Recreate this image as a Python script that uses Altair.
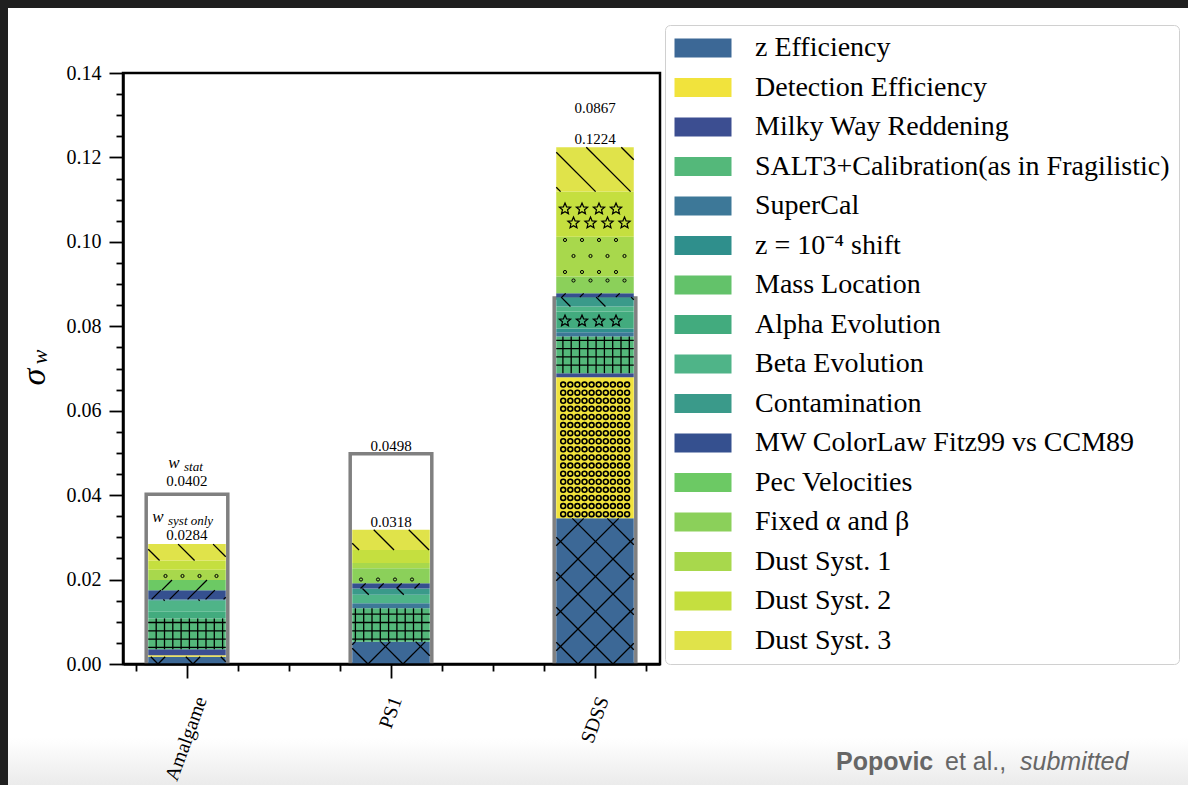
import altair as alt
import pandas as pd
import numpy as np

# ---------------- data ----------------
surveys = ["Amalgame", "PS1", "SDSS"]
survey_pos = [0, 1, 2]
systematics = [
    "z Efficiency", "Detection Efficiency", "Milky Way Reddening",
    "SALT3+Calibration(as in Fragilistic)", "SuperCal", "z = 10⁻⁴ shift",
    "Mass Location", "Alpha Evolution", "Beta Evolution", "Contamination",
    "MW ColorLaw Fitz99 vs CCM89", "Pec Velocities", "Fixed α and β",
    "Dust Syst. 1", "Dust Syst. 2", "Dust Syst. 3",
]
sys_colors = [
    "#3c6896", "#f1e33c", "#3c4e91", "#54b87a", "#3d7898", "#2f8f8c",
    "#63c26a", "#42ab7e", "#4fb488", "#3a9a8a", "#35508f", "#6cc964",
    "#8bd05a", "#a8d84c", "#c5df3f", "#e0e34a",
]
amalgame_vals = [0.0017, 0.0004, 0.0014, 0.0073, 0.0, 0.0, 0.0, 0.0016,
                 0.0026, 0.0003, 0.0022, 0.0024, 0.0, 0.0024, 0.0022, 0.0039]
ps1_vals = [0.0053, 0.0, 0.0, 0.0079, 0.0012, 0.0, 0.0, 0.0,
            0.0020, 0.0015, 0.0012, 0.0, 0.0036, 0.0012, 0.0031, 0.0048]
sdss_vals = [0.0345, 0.0334, 0.0010, 0.0087, 0.0010, 0.0009, 0.0, 0.0040,
             0.0012, 0.0022, 0.0009, 0.0, 0.0040, 0.0094, 0.0107, 0.0105]
syst_only_totals = [0.0284, 0.0318, 0.1224]
stat_totals = [0.0402, 0.0498, 0.0867]

# ---------------- geometry / style ----------------
W, H = 537, 591
XD = (-0.3137, 2.3186)
YMAX = 0.14
KX = W / (XD[1] - XD[0])
KY = H / YMAX
BAR_HW = 0.19
BOX_HW = 0.20
SERIF = "Liberation Serif"

rows = []
for name, pos, vals in zip(surveys, survey_pos, [amalgame_vals, ps1_vals, sdss_vals]):
    base = 0.0
    for k, (sysname, v) in enumerate(zip(systematics, vals)):
        if v > 0:
            rows.append(dict(survey=name, pos=pos, system=sysname, k=k,
                             y0=base, y1=base + v, xa=pos - BAR_HW, xb=pos + BAR_HW))
        base += v
seg = pd.DataFrame(rows)

box = pd.DataFrame({"survey": surveys, "pos": survey_pos, "stat": stat_totals})
box["xa"] = box["pos"] - BOX_HW
box["xb"] = box["pos"] + BOX_HW
box["zero"] = 0.0


def star_path(n=5, r_in=0.45):
    pts = []
    for i in range(2 * n):
        a = np.deg2rad(-90 + 180 / n * i)
        r = 1.0 if i % 2 == 0 else r_in
        pts.append(f"{r*np.cos(a):.3f},{r*np.sin(a):.3f}")
    return "M" + "L".join(pts) + "Z"


STAR = star_path()
HATCH = {
    0: [("up", 35), ("down", 35)],
    1: [("pts", "circle", 7.1, 8.1, 24, 1.6, False)],
    2: [("pts", "circle", 14, 14, 110, 1.3, False)],
    3: [("hv", 8.3)],
    5: [("pts", "circle", 17, 12, 20, 1.2, True)],
    6: [("pts", "circle", 17, 12, 20, 1.2, True)],
    7: [("pts", STAR, 17, 14, 140, 1.2, True)],
    9: [("down", 35)],
    10: [("up", 18)],
    11: [("up", 35)],
    12: [("pts", "circle", 17, 13, 10, 1.0, True)],
    13: [("pts", "circle", 17, 16, 10, 1.0, True)],
    14: [("pts", STAR, 17, 14, 140, 1.2, True)],
    15: [("down", 35)],
}

lines, pts = [], []
for r in seg.itertuples():
    X0, X1 = (r.xa - XD[0]) * KX, (r.xb - XD[0]) * KX
    Y0, Y1 = r.y0 * KY, r.y1 * KY
    for h in HATCH.get(r.k, []):
        kind = h[0]
        if kind == "up":
            p = h[1]
            for j in range(int(np.floor((Y0 - X1) / p)), int(np.ceil((Y1 - X0) / p)) + 1):
                c = j * p
                xs, xe = max(X0, Y0 - c), min(X1, Y1 - c)
                if xe - xs > 0.5:
                    lines.append((xs, xs + c, xe, xe + c))
        elif kind == "down":
            p = h[1]
            for j in range(int(np.floor((X0 + Y0) / p)), int(np.ceil((X1 + Y1) / p)) + 1):
                c = j * p
                xs, xe = max(X0, c - Y1), min(X1, c - Y0)
                if xe - xs > 0.5:
                    lines.append((xs, c - xs, xe, c - xe))
        elif kind == "hv":
            p = h[1]
            for j in range(int(np.ceil(X0 / p)), int(np.floor(X1 / p)) + 1):
                X = j * p
                if X0 < X < X1:
                    lines.append((X, Y0, X, Y1))
            for j in range(int(np.ceil(Y0 / p)), int(np.floor(Y1 / p)) + 1):
                Y = j * p
                if Y0 < Y < Y1:
                    lines.append((X0, Y, X1, Y))
        elif kind == "pts":
            _, shape, pxp, pyp, size, sw, stagger = h
            rad = np.sqrt(size / np.pi) if shape == "circle" else np.sqrt(size) / 2
            for j in range(int(np.floor(Y0 / pyp)) - 1, int(np.ceil(Y1 / pyp)) + 1):
                Y = (j + 0.5) * pyp
                if not (Y0 + rad * 0.7 <= Y <= Y1 - rad * 0.7):
                    continue
                off = pxp / 2 if (stagger and j % 2) else 0.0
                for i in range(int(np.floor((X0 - off) / pxp)) - 1, int(np.ceil((X1 - off) / pxp)) + 1):
                    X = i * pxp + off
                    if X0 + rad * 0.8 <= X <= X1 - rad * 0.8:
                        pts.append((X, Y, shape, size, sw))

hl = pd.DataFrame(lines, columns=["X1", "Y1", "X2", "Y2"])
hl["x"] = hl["X1"] / KX + XD[0]
hl["x2"] = hl["X2"] / KX + XD[0]
hl["y"] = hl["Y1"] / KY
hl["y2"] = hl["Y2"] / KY
hp = pd.DataFrame(pts, columns=["X", "Y", "shape", "size", "sw"])
hp["x"] = hp["X"] / KX + XD[0]
hp["y"] = hp["Y"] / KY

lab = pd.DataFrame({"survey": surveys, "pos": survey_pos,
                    "syst": syst_only_totals, "stat": stat_totals})
lab["syst_txt"] = lab["syst"].map(lambda v: f"{v:.4f}")
lab["stat_txt"] = lab["stat"].map(lambda v: f"{v:.4f}")

# ---------------- scales / axes ----------------
XS = alt.Scale(domain=list(XD), nice=False, zero=False)
YS = alt.Scale(domain=[0, YMAX], nice=False, zero=False)

x_ticks = [round(-0.25 + 0.25 * i, 2) for i in range(11)]
y_ticks = [round(0.005 * i, 3) for i in range(29)]

x_lab_expr = " : ".join(
    [f"abs(datum.value - {p}) < 1e-6 ? '{s}'" for p, s in zip(survey_pos, surveys)]
) + " : ''"

XAX = alt.Axis(
    values=x_ticks, labelExpr=x_lab_expr, title=None, grid=False,
    tickSize={"condition": {"test": "abs(datum.value - round(datum.value)) < 1e-6", "value": 14}, "value": 7},
    labelOffset={"condition": [{"test": "abs(datum.value) < 1e-6", "value": 14},
                               {"test": "abs(datum.value - 2) < 1e-6", "value": 8}], "value": 5},
    labelAngle=-70, labelAlign="right", labelBaseline="middle",
    labelFont=SERIF, labelFontSize=20, labelColor="black", labelPadding=19,
    tickColor="black", tickWidth=1.8, domainColor="black", domainWidth=2.5,
    labelOverlap=False, labelFlush=False, labelBound=False, zindex=1,
)
YAX = alt.Axis(
    values=y_ticks, title=None, grid=False,
    labelExpr="round(datum.value*1000) % 20 == 0 ? format(datum.value, '.2f') : ''",
    tickSize={"condition": {"test": "round(datum.value*1000) % 20 == 0", "value": 14}, "value": 7},
    labelFont=SERIF, labelFontSize=20, labelColor="black", labelPadding=8,
    tickColor="black", tickWidth=1.8, domainColor="black", domainWidth=2.5,
    labelOverlap=False, labelFlush=False, labelBound=False, zindex=1,
)


def X(f):
    return alt.X(f, type="quantitative", scale=XS, axis=XAX)


def Y(f):
    return alt.Y(f, type="quantitative", scale=YS, axis=YAX)


# ---------------- decorations (screenshot frame) ----------------
one = pd.DataFrame({"a": [0]})
strip_top = alt.Chart(one).mark_rect(color="#1f1f1f").encode(
    x=alt.value(-123), x2=alt.value(1188 - 123), y=alt.value(-73), y2=alt.value(-65))
strip_left = alt.Chart(one).mark_rect(color="#1f1f1f").encode(
    x=alt.value(-123), x2=alt.value(-115), y=alt.value(-73), y2=alt.value(785 - 73))
grad = alt.Chart(one).mark_rect(
    fill=alt.LinearGradient(gradient="linear", x1=0, y1=0, x2=0, y2=1,
                            stops=[alt.GradientStop(color="#ffffff", offset=0),
                                   alt.GradientStop(color="#ebebeb", offset=1)])
).encode(x=alt.value(-115), x2=alt.value(1188 - 123), y=alt.value(738 - 73), y2=alt.value(785 - 73))

# ---------------- marks ----------------
boxes = alt.Chart(box).mark_rect(filled=False, stroke="#808080", strokeWidth=3.5).encode(
    x=X("xa"), x2="xb", y=Y("zero"), y2="stat")

legend_sym = "M-3,-1H3V1H-3Z"
stack = alt.Chart(seg).mark_rect().encode(
    x=X("xa"), x2="xb", y=Y("y0"), y2="y1",
    color=alt.Color("system:N", scale=alt.Scale(domain=systematics, range=sys_colors),
                    legend=alt.Legend(
                        orient="none", legendX=542, legendY=-48, title=None,
                        symbolType=legend_sym, symbolSize=361, symbolStrokeWidth=0,
                        symbolOffset=15, labelOffset=38,
                        labelFont=SERIF, labelFontSize=28, labelColor="black", labelLimit=800,
                        padding=9, rowPadding=11.5, strokeColor="#d0d0d0", fillColor="white",
                        cornerRadius=5)),
)

hatch_lines = alt.Chart(hl).mark_rule(color="black", strokeWidth=1.3).encode(
    x=X("x"), x2="x2", y=Y("y"), y2="y2")
hatch_pts = alt.Chart(hp).mark_point(filled=False, color="black", opacity=1).encode(
    x=X("x"), y=Y("y"),
    shape=alt.Shape("shape:N", scale=None),
    size=alt.Size("size:Q", scale=None),
    strokeWidth=alt.StrokeWidth("sw:Q", scale=None))

first = f"datum.survey == '{surveys[0]}'"
tbase = alt.Chart(lab)


def txt(ycol, textcol, dy, dx=0, size=15, style="normal", align="center", filt=None, const=None):
    c = tbase
    if filt:
        c = c.transform_filter(filt)
    enc = dict(x=X("pos"), y=Y(ycol))
    enc["text"] = alt.value(const) if const is not None else alt.Text(textcol + ":N")
    return c.mark_text(font=SERIF, fontSize=size, fontStyle=style, color="black",
                       dy=dy, dx=dx, align=align, baseline="alphabetic").encode(**enc)


labels = [
    txt("stat", "stat_txt", -8, filt=first),
    txt("stat", None, -26, dx=-13, size=17, style="italic", filt=first, const="w"),
    txt("stat", None, -23, dx=-3, size=13, style="italic", align="left", filt=first, const="stat"),
    txt("syst", "syst_txt", -4, filt=first),
    txt("syst", None, -22, dx=-29, size=17, style="italic", filt=first, const="w"),
    txt("syst", None, -19, dx=-19, size=13, style="italic", align="left", filt=first, const="syst only"),
    txt("syst", "syst_txt", -3, filt=f"datum.survey != '{surveys[0]}'"),
    txt("stat", "stat_txt", -3, filt=f"datum.survey != '{surveys[0]}' && datum.stat > datum.syst"),
    txt("syst", "stat_txt", -34, filt="datum.stat <= datum.syst"),
]

sigma = alt.Chart(one).mark_text(font=SERIF, fontSize=34, fontStyle="italic", angle=270,
                                 align="center", baseline="middle", color="black").encode(
    x=alt.value(-88), y=alt.value(304), text=alt.value("σ"))
sub_w = alt.Chart(one).mark_text(font=SERIF, fontSize=22, fontStyle="italic", angle=270,
                                 align="center", baseline="middle", color="black").encode(
    x=alt.value(-83), y=alt.value(284), text=alt.value("w"))

SANS = "Liberation Sans"
foot1 = alt.Chart(one).mark_text(font=SANS, fontSize=25, fontWeight="bold", color="#666666",
                                 align="left", baseline="alphabetic").encode(
    x=alt.value(713), y=alt.value(697), text=alt.value("Popovic"))
foot2 = alt.Chart(one).mark_text(font=SANS, fontSize=25, color="#666666",
                                 align="left", baseline="alphabetic").encode(
    x=alt.value(822), y=alt.value(697), text=alt.value("et al.,"))
foot3 = alt.Chart(one).mark_text(font=SANS, fontSize=25, fontStyle="italic", color="#666666",
                                 align="left", baseline="alphabetic").encode(
    x=alt.value(897), y=alt.value(697), text=alt.value("submitted"))

chart = alt.layer(
    strip_top, strip_left, grad, boxes, stack, hatch_lines, hatch_pts,
    *labels, sigma, sub_w, foot1, foot2, foot3,
).properties(
    width=W, height=H,
    autosize=alt.AutoSizeParams(type="none"),
    padding={"left": 123, "top": 73, "right": 528, "bottom": 121},
    background="white",
).configure_view(stroke="black", strokeWidth=2.5)

chart.save("out.html", embed_options={"renderer": "svg", "actions": False})
